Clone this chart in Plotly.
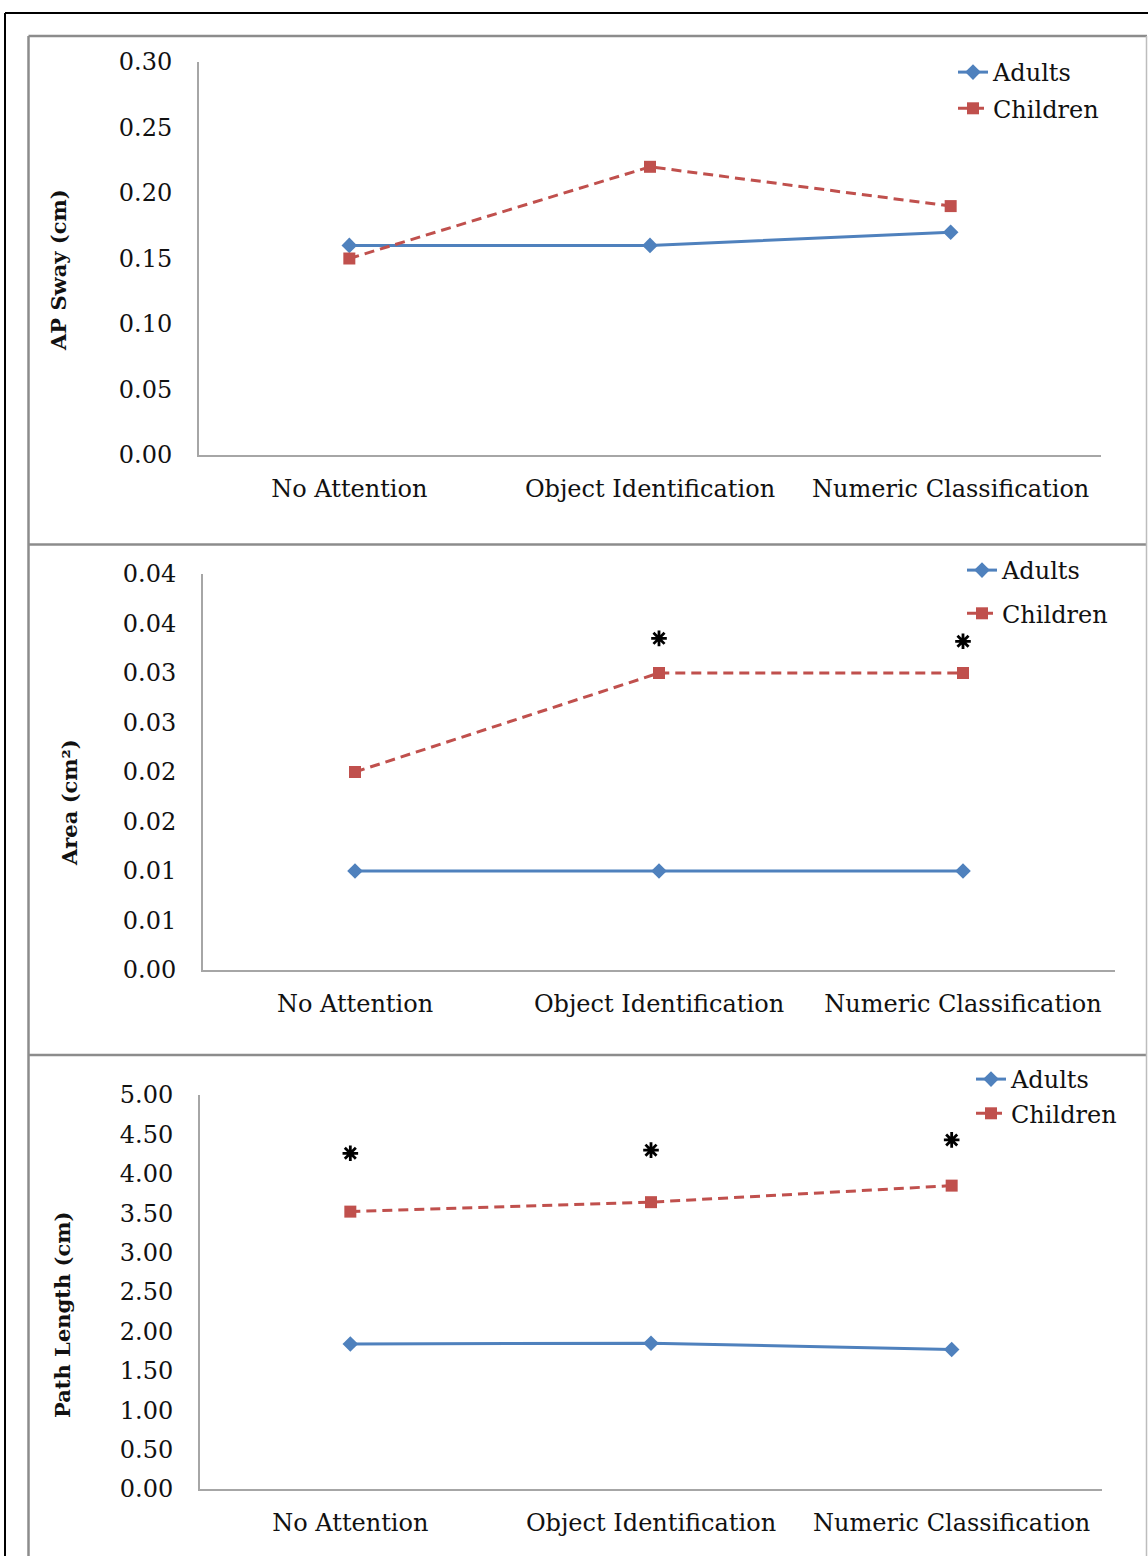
import plotly.graph_objects as go

W, H = 1148, 1556

categories = ["No Attention", "Object Identification", "Numeric Classification"]

ap_adults = [0.16, 0.16, 0.17]
ap_children = [0.15, 0.22, 0.19]

area_adults = [0.01, 0.01, 0.01]
area_children = [0.02, 0.03, 0.03]
area_star = [None, 0.0335, 0.0332]
area_ticktext = ["0.00", "0.01", "0.01", "0.02", "0.02", "0.03", "0.03", "0.04", "0.04"]

path_adults = [1.84, 1.85, 1.77]
path_children = [3.52, 3.64, 3.85]
path_star = [4.26, 4.30, 4.43]

BLUE = "#4F81BD"
RED = "#C0504D"
AXIS = "#A6A6A6"
TXT = "#111111"
FONT = "DejaVu Serif"
FS = 24


def px(x):
    return x / W


def py(y):
    return 1 - y / H


fig = go.Figure()

panels = [
    ("", ap_adults, ap_children, None, "legend"),
    ("2", area_adults, area_children, area_star, "legend2"),
    ("3", path_adults, path_children, path_star, "legend3"),
]

for suf, ad, ch, st, lg in panels:
    xa = "x" + suf
    ya = "y" + suf
    fig.add_trace(go.Scatter(
        x=categories, y=ad, name="Adults", xaxis=xa, yaxis=ya, legend=lg,
        legendgroup="a" + suf, mode="lines+markers",
        line=dict(color=BLUE, width=3),
        marker=dict(symbol="diamond", size=12, color=BLUE),
    ))
    fig.add_trace(go.Scatter(
        x=categories, y=ch, name="Children", xaxis=xa, yaxis=ya, legend=lg,
        legendgroup="c" + suf, mode="lines+markers",
        line=dict(color=RED, width=3, dash="10px,6px"),
        marker=dict(symbol="square", size=12, color=RED),
    ))
    if st is not None:
        fig.add_trace(go.Scatter(
            x=categories, y=st, xaxis=xa, yaxis=ya, showlegend=False,
            mode="markers",
            marker=dict(symbol="asterisk-open", size=13, color="black",
                        line=dict(color="black", width=2.8)),
        ))

common_x = dict(
    type="category", range=[-0.5, 2.5], showgrid=False, zeroline=False,
    showline=True, linecolor=AXIS, linewidth=2, ticks="", automargin=False,
    tickfont=dict(family=FONT, size=FS, color=TXT), ticklabelstandoff=11,
)
common_y = dict(
    showgrid=False, zeroline=False, showline=True, linecolor=AXIS, linewidth=2,
    ticks="", automargin=False,
    tickfont=dict(family=FONT, size=FS, color=TXT), ticklabelstandoff=20,
)

layout = dict(
    width=W, height=H, margin=dict(l=0, r=0, t=0, b=0, autoexpand=False),
    paper_bgcolor="white", plot_bgcolor="white", showlegend=True,
)

layout["xaxis"] = dict(common_x, domain=[px(199), px(1101)], anchor="y")
layout["yaxis"] = dict(common_y, domain=[py(455), py(62)], anchor="x",
                       range=[0, 0.30], tickmode="linear", tick0=0, dtick=0.05,
                       tickformat=".2f")
layout["xaxis2"] = dict(common_x, domain=[px(203), px(1115)], anchor="y2")
layout["yaxis2"] = dict(common_y, domain=[py(970), py(574)], anchor="x2",
                        range=[0, 0.04], tickmode="array",
                        tickvals=[i * 0.005 for i in range(len(area_ticktext))],
                        ticktext=area_ticktext)
layout["xaxis3"] = dict(common_x, domain=[px(200), px(1102)], anchor="y3")
layout["yaxis3"] = dict(common_y, domain=[py(1489), py(1095)], anchor="x3",
                        range=[0, 5.0], tickmode="linear", tick0=0, dtick=0.5,
                        tickformat=".2f")

leg_common = dict(font=dict(family=FONT, size=FS, color=TXT),
                  bgcolor="rgba(0,0,0,0)", xanchor="left", yanchor="top",
                  itemwidth=30)
layout["legend"] = dict(leg_common, x=px(953), y=py(50), tracegroupgap=2)
layout["legend2"] = dict(leg_common, x=px(962), y=py(548), tracegroupgap=9)
layout["legend3"] = dict(leg_common, x=px(971), y=py(1057), tracegroupgap=0)

fig.update_layout(**layout)

titles = [("AP Sway (cm)", 58, 270), ("Area (cm²)", 69, 803), ("Path Length (cm)", 62, 1315)]
for t, x, y in titles:
    fig.add_annotation(text="<b>" + t + "</b>", x=px(x), y=py(y), xref="paper", yref="paper",
                       textangle=-90, showarrow=False, xanchor="center", yanchor="middle",
                       font=dict(family=FONT, size=21, color=TXT))

shapes = []
shapes.append(dict(type="line", xref="paper", yref="paper", x0=px(5), x1=px(1160),
                   y0=py(13), y1=py(13), line=dict(color="black", width=2)))
shapes.append(dict(type="line", xref="paper", yref="paper", x0=px(5), x1=px(5),
                   y0=py(13), y1=py(1570), line=dict(color="black", width=2)))
for ytop in [36, 544.5, 1055]:
    shapes.append(dict(type="line", xref="paper", yref="paper", x0=px(28.5), x1=px(1147),
                       y0=py(ytop), y1=py(ytop), line=dict(color="#8C8C8C", width=2.5)))
shapes.append(dict(type="line", xref="paper", yref="paper", x0=px(28.5), x1=px(28.5),
                   y0=py(36), y1=py(1570), line=dict(color="#8C8C8C", width=2.5)))
shapes.append(dict(type="line", xref="paper", yref="paper", x0=px(1146.5), x1=px(1146.5),
                   y0=py(36), y1=py(1570), line=dict(color="#BDBDBD", width=1.5)))
fig.update_layout(shapes=shapes)

fig.write_html("out.html", config={"displayModeBar": False},
               post_script="document.body.style.margin='0px';")
